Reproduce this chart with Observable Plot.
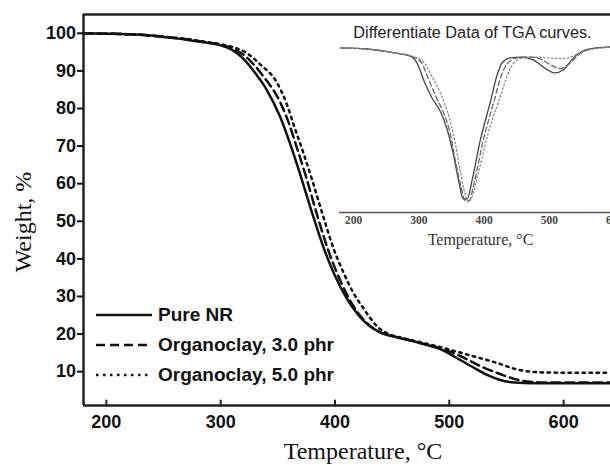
<!DOCTYPE html>
<html><head><meta charset="utf-8">
<script src="https://cdn.jsdelivr.net/npm/d3@7"></script>
<script src="https://cdn.jsdelivr.net/npm/@observablehq/plot@0.6"></script>
<style>
body{margin:0;background:#fff;}
#wrap{position:relative;width:610px;height:465px;overflow:hidden;background:#fff;}
#wrap > svg{position:absolute;background:transparent;}
.legend-row{position:absolute;left:96px;height:24px;display:flex;align-items:center;font:bold 19px "Liberation Sans",Arial,sans-serif;color:#111;white-space:nowrap;}
.legend-row svg{position:static;margin-right:6px;}
</style></head><body><div id="wrap"></div>
<script>
// ---- data ----
const seriesNames = ["Pure NR", "Organoclay, 3.0 phr", "Organoclay, 5.0 phr"];
const xTicks = [200, 300, 400, 500, 600];
const yTicks = [10, 20, 30, 40, 50, 60, 70, 80, 90, 100];
const insetTicks = [200, 300, 400, 500, 600];

// TGA weight (%) vs temperature (°C)
const pureNR = [[180,100],[200,99.9],[230,99.6],[250,99.0],[270,98.3],[285,97.6],[300,96.8],[310,95.6],[320,93.2],[330,89.5],[340,85.1],[352,77.8],[362,69.5],[370,62],[380,52.2],[390,43],[400,35.5],[410,29.6],[420,25.2],[430,22.2],[440,20.4],[455,19.1],[470,18.0],[485,16.7],[495,15.6],[505,13.9],[520,11.3],[535,8.9],[550,7.4],[565,7.0],[580,6.9],[641,6.9]];
const organo3 = [[180,100],[200,99.9],[230,99.6],[250,99.1],[270,98.4],[285,97.7],[300,96.9],[310,96.0],[320,94.3],[330,91.3],[338,88.3],[352,81.7],[360,75.8],[366,70.2],[375,61.5],[385,51],[395,41.5],[405,34],[415,28],[425,23.8],[435,21.2],[445,19.9],[460,18.8],[475,17.6],[490,16.4],[500,15.4],[510,14.1],[527,11.5],[545,9.3],[559,7.9],[571,7.3],[590,7.1],[641,7.1]];
const organo5 = [[180,100],[200,99.9],[230,99.6],[250,99.1],[270,98.5],[285,97.8],[300,97.1],[312,96.2],[323,94.7],[335,91.6],[349,87],[358,81],[364,75.5],[372,68.5],[380,61],[390,51],[399,42.5],[408,36],[416,31],[425,26.8],[431,24.2],[437,22],[445,20.3],[460,18.9],[475,17.8],[490,16.7],[501,15.8],[521,14.1],[542,12.3],[559,10.6],[571,10.0],[590,9.75],[641,9.7]];

// DTG (derivative, %/°C) for the inset
const dtgPure = [[180,-0.005],[220,-0.012],[260,-0.035],[288,-0.06],[298,-0.11],[308,-0.22],[320,-0.33],[333,-0.42],[343,-0.53],[353,-0.70],[361,-0.87],[368,-0.99],[374,-0.99],[382,-0.86],[394,-0.61],[410,-0.35],[420,-0.18],[428,-0.10],[440,-0.07],[456,-0.065],[476,-0.085],[496,-0.145],[508,-0.168],[522,-0.145],[538,-0.065],[558,-0.015],[590,0],[600,0]];
const dtgOrg3 = [[180,-0.005],[220,-0.012],[260,-0.035],[292,-0.065],[304,-0.10],[314,-0.20],[326,-0.32],[338,-0.43],[348,-0.56],[356,-0.74],[364,-0.90],[371,-1.0],[377,-1.0],[385,-0.88],[398,-0.62],[416,-0.34],[426,-0.19],[435,-0.11],[450,-0.07],[466,-0.063],[485,-0.075],[500,-0.11],[517,-0.14],[530,-0.11],[545,-0.05],[565,-0.012],[595,0],[600,0]];
const dtgOrg5 = [[180,-0.005],[220,-0.012],[260,-0.035],[294,-0.065],[308,-0.10],[320,-0.19],[334,-0.31],[346,-0.45],[356,-0.63],[364,-0.82],[371,-0.96],[376,-1.01],[381,-0.98],[390,-0.84],[405,-0.58],[425,-0.32],[436,-0.18],[446,-0.10],[460,-0.07],[480,-0.065],[500,-0.07],[520,-0.075],[535,-0.06],[550,-0.03],[570,-0.008],[600,0]];

// ---- chart ----
const xDomain = [180, 641], yDomain = [1, 105];
const tga = [pureNR, organo3, organo5];
const dtg = [dtgPure, dtgOrg3, dtgOrg5];
const dashes = [null, "9,5", "2.5,4.5"];
const insetDashes = [null, "5,3", "1.5,2.5"];
const insetColors = ["#444", "#666", "#888"];
const tickShape = {draw(ctx, l) { ctx.moveTo(0, 0); ctx.lineTo(0, -l); }};
const sansB = "Liberation Sans, Arial, sans-serif";
const serif = "Liberation Serif, Times New Roman, serif";

const main = Plot.plot({
  width: 610, height: 465,
  marginLeft: 83, marginRight: 0, marginTop: 14, marginBottom: 60,
  x: {domain: xDomain}, y: {domain: yDomain},
  style: {fontFamily: sansB, fontSize: "18px", fontWeight: "bold", color: "#111", background: "transparent"},
  marks: [
    ...tga.map((d, i) => Plot.line(d, {x: p => p[0], y: p => p[1], stroke: "#111", strokeWidth: 2.5, strokeDasharray: dashes[i], curve: "monotone-x"})),
    Plot.ruleX([xDomain[0]], {stroke: "#222", strokeWidth: 2.5}),
    Plot.ruleY([yDomain[0]], {stroke: "#222", strokeWidth: 2.5}),
    Plot.ruleY([yDomain[1]], {stroke: "#222", strokeWidth: 2.5}),
    Plot.axisY(yTicks, {tickSize: 6, tickPadding: 1.5, strokeWidth: 2, fontSize: 18, fontWeight: "bold", label: null}),
    Plot.axisX(xTicks, {tickSize: 0, tickPadding: 10, fontSize: 18, fontWeight: "bold", label: null}),
    Plot.vector(xTicks, {x: d => d, y: yDomain[0], length: 5, rotate: 0, anchor: "start", shape: tickShape, stroke: "#222", strokeWidth: 2}),
    Plot.text(["Weight, %"], {frameAnchor: "left", textAnchor: "middle", lineAnchor: "middle", rotate: -90, dx: -60, dy: 12, fontFamily: serif, fontSize: 24, fontWeight: "normal", fill: "#111"}),
    Plot.text(["Temperature, °C"], {frameAnchor: "bottom", textAnchor: "middle", lineAnchor: "middle", dx: 16, dy: 46, fontFamily: serif, fontSize: 24, fontWeight: "normal", fill: "#111"})
  ]
});
main.style.left = "0px"; main.style.top = "0px";

const insetY = [-1.078, 0.05];
const inset = Plot.plot({
  width: 310, height: 240,
  marginLeft: 39, marginRight: 0, marginTop: 19, marginBottom: 48,
  x: {domain: [178.5, 593.6]}, y: {domain: insetY, axis: null},
  style: {fontFamily: sansB, fontSize: "12px", color: "#333", background: "transparent"},
  marks: [
    Plot.ruleY([insetY[0]], {stroke: "#555", strokeWidth: 1.5}),
    ...dtg.map((d, i) => Plot.line(d, {x: p => p[0], y: p => p[1], stroke: insetColors[i], strokeWidth: 1.3, strokeDasharray: insetDashes[i], curve: "monotone-x", clip: true})),
    Plot.axisX(insetTicks, {tickSize: 0, tickPadding: 3, fontFamily: serif, fontSize: 11.5, fontWeight: "bold", fill: "#444", label: null}),
    Plot.text(["Differentiate Data of TGA curves."], {frameAnchor: "top", textAnchor: "middle", lineAnchor: "middle", dx: -2.5, dy: -7, fontFamily: sansB, fontSize: 16.3, fill: "#222"}),
    Plot.text(["Temperature, °C"], {frameAnchor: "bottom", textAnchor: "middle", lineAnchor: "middle", dx: 5.5, dy: 27, fontFamily: serif, fontSize: 16, fill: "#333"})
  ]
});
inset.style.left = "300px"; inset.style.top = "20px";

const wrap = document.getElementById("wrap");
wrap.appendChild(main);
wrap.appendChild(inset);

// legend
const legendTops = [303, 333, 363];
seriesNames.forEach((name, i) => {
  const row = document.createElement("div");
  row.className = "legend-row";
  row.style.top = legendTops[i] + "px";
  const s = d3.create("svg").attr("width", 56).attr("height", 6);
  s.append("line").attr("x1", 0).attr("x2", 56).attr("y1", 3).attr("y2", 3)
    .attr("stroke", "#111").attr("stroke-width", 2.5).attr("stroke-dasharray", dashes[i]);
  row.appendChild(s.node());
  const t = document.createElement("span");
  t.textContent = name;
  row.appendChild(t);
  wrap.appendChild(row);
});
</script></body></html>
